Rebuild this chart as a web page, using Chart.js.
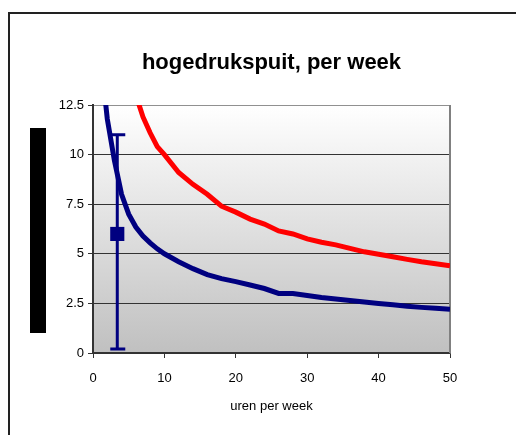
<!DOCTYPE html>
<html>
<head>
<meta charset="utf-8">
<script src="https://cdn.jsdelivr.net/npm/chart.js@4/dist/chart.umd.min.js"></script>
<style>
    html, body { margin: 0; padding: 0; background: #fff; }
    #wrap { position: relative; width: 516px; height: 435px; overflow: hidden; }
    #frame { position: absolute; left: 8px; top: 12px; width: 600px; height: 500px;
             border-left: 2px solid #222; border-top: 2px solid #222; }
    #chart { position: absolute; left: 0; top: 0; }
</style>
</head>
<body>
<div id="wrap">
    <div id="frame"></div>
    <canvas id="chart" width="516" height="435"></canvas>
</div>
<script>
const chartTitle = 'hogedrukspuit, per week';
const xTitle = 'uren per week';

const xTicks = [0, 10, 20, 30, 40, 50];
const yTicks = [0, 2.5, 5, 7.5, 10, 12.5];

// blue curve
const blueX = [1.5, 2, 3, 4, 5, 6, 7, 8, 9, 10, 12, 14, 16, 18, 20, 22, 24, 26, 28, 30, 32, 34, 36, 38, 40, 42, 44, 46, 48, 50];
const blueY = [13.5, 11.8, 9.7, 8.0, 7.0, 6.35, 5.9, 5.55, 5.25, 5.0, 4.6, 4.25, 3.95, 3.75, 3.6, 3.43, 3.25, 3.0, 3.0, 2.9, 2.8, 2.72, 2.65, 2.57, 2.5, 2.43, 2.36, 2.3, 2.25, 2.2];

// red curve
const redX = [6, 7, 8, 9, 10, 12, 14, 16, 18, 20, 22, 24, 26, 28, 30, 32, 34, 36, 38, 40, 42, 44, 46, 48, 50];
const redY = [13.0, 11.9, 11.1, 10.4, 10.0, 9.1, 8.5, 8.0, 7.4, 7.1, 6.75, 6.5, 6.15, 6.0, 5.75, 5.58, 5.45, 5.27, 5.1, 4.98, 4.85, 4.72, 4.6, 4.5, 4.4];

// single point with error bar
const markX = [3.4];
const markY = [6];
const markLow = [0.2];
const markHigh = [11];

const toPoints = (xs, ys) => xs.map((x, i) => ({ x: x, y: ys[i] }));

const plotBackground = {
    id: 'plotBackground',
    beforeDraw(chart) {
        const { ctx, chartArea: a } = chart;
        const g = ctx.createLinearGradient(0, a.top, 0, a.bottom);
        g.addColorStop(0, '#ffffff');
        g.addColorStop(1, '#c0c0c0');
        ctx.save();
        ctx.fillStyle = g;
        ctx.fillRect(a.left, a.top, a.right - a.left, a.bottom - a.top);
        // block where the y axis title sits
        ctx.fillStyle = '#000';
        ctx.fillRect(30, 128, 16, 205);
        ctx.restore();
    },
    beforeDatasetsDraw(chart) {
        const { ctx, chartArea: a, scales } = chart;
        ctx.save();
        ctx.strokeStyle = '#808080';
        ctx.lineWidth = 2;
        ctx.beginPath();
        ctx.moveTo(a.right, a.top);
        ctx.lineTo(a.right, a.bottom);
        ctx.stroke();

        // error bar
        ctx.strokeStyle = '#000080';
        ctx.lineWidth = 3;
        markX.forEach((mx, i) => {
            const px = scales.x.getPixelForValue(mx);
            const yHi = scales.y.getPixelForValue(markHigh[i]);
            const yLo = scales.y.getPixelForValue(markLow[i]);
            ctx.beginPath();
            ctx.moveTo(px, yHi);
            ctx.lineTo(px, yLo);
            ctx.moveTo(px - 7, yHi);
            ctx.lineTo(px + 8, yHi);
            ctx.moveTo(px - 7, yLo);
            ctx.lineTo(px + 8, yLo);
            ctx.stroke();
        });
        ctx.restore();
    }
};

new Chart(document.getElementById('chart'), {
    type: 'scatter',
    data: {
        datasets: [
            {
                label: 'meting',
                data: toPoints(markX, markY),
                pointStyle: 'rect',
                pointRadius: 10,
                backgroundColor: '#000080',
                borderColor: '#000080',
                borderWidth: 0,
                showLine: false
            },
            {
                label: 'blauw',
                data: toPoints(blueX, blueY),
                showLine: true,
                borderColor: '#000080',
                borderWidth: 5,
                pointRadius: 0,
                tension: 0
            },
            {
                label: 'rood',
                data: toPoints(redX, redY),
                showLine: true,
                borderColor: '#ff0000',
                borderWidth: 5,
                pointRadius: 0,
                tension: 0
            }
        ]
    },
    options: {
        responsive: false,
        animation: false,
        layout: { padding: { left: 0, right: 66, top: 0, bottom: 0 } },
        plugins: {
            legend: { display: false },
            tooltip: { enabled: false },
            title: {
                display: true,
                fullSize: false,
                text: chartTitle,
                color: '#000',
                font: { family: "'Liberation Sans', Arial, sans-serif", size: 22, weight: 'bold' },
                padding: { top: 50, bottom: 28.6 }
            }
        },
        scales: {
            x: {
                type: 'linear',
                min: 0,
                max: 50,
                afterBuildTicks: s => { s.ticks = xTicks.map(v => ({ value: v })); },
                afterFit: s => { s.height = 82; },
                border: { color: '#333', width: 1.5 },
                grid: { display: true, drawOnChartArea: false, drawTicks: true, tickLength: 5, color: '#333' },
                ticks: {
                    color: '#000',
                    padding: 13,
                    maxRotation: 0,
                    font: { family: "'Liberation Sans', Arial, sans-serif", size: 13 }
                },
                title: {
                    display: true,
                    text: xTitle,
                    color: '#000',
                    font: { family: "'Liberation Sans', Arial, sans-serif", size: 13 },
                    padding: { top: 0, bottom: 21 }
                }
            },
            y: {
                type: 'linear',
                min: 0,
                max: 12.5,
                afterBuildTicks: s => { s.ticks = yTicks.map(v => ({ value: v })); },
                afterFit: s => { s.width = 93; },
                border: { color: '#333', width: 2 },
                grid: {
                    color: c => (c.tick && c.tick.value === 12.5 ? '#909090' : '#333'),
                    lineWidth: 1,
                    tickLength: 5,
                    tickColor: '#333'
                },
                ticks: {
                    color: '#000',
                    padding: 4,
                    font: { family: "'Liberation Sans', Arial, sans-serif", size: 13 }
                }
            }
        }
    },
    plugins: [plotBackground]
});
</script>
</body>
</html>
